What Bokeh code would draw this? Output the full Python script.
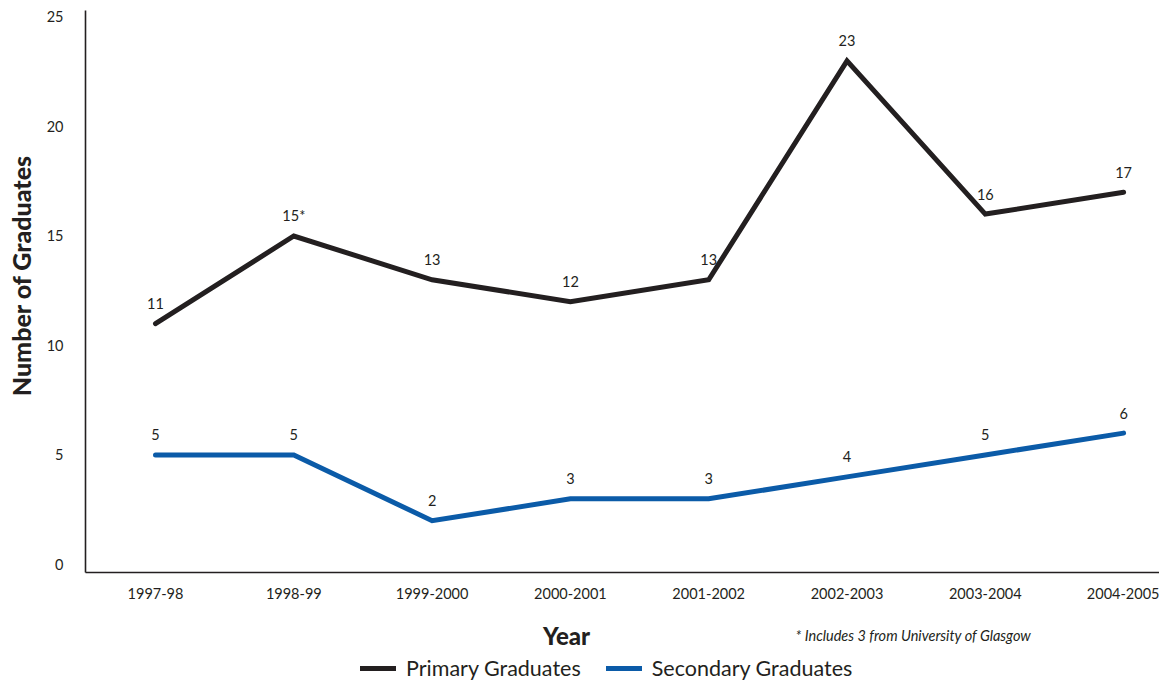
import math
from bokeh.plotting import figure
from bokeh.models import (ColumnDataSource, FixedTicker, Legend, LegendItem, Label, Range1d)
from bokeh.core.properties import value
from bokeh.embed import file_html
from bokeh.resources import INLINE

years = ["1997-98", "1998-99", "1999-2000", "2000-2001", "2001-2002", "2002-2003", "2003-2004", "2004-2005"]
primary = [11, 15, 13, 12, 13, 23, 16, 17]
secondary = [5, 5, 2, 3, 3, 4, 5, 6]
primary_labels = ["11", "15*", "13", "12", "13", "23", "16", "17"]
secondary_labels = ["5", "5", "2", "3", "3", "4", "5", "6"]
y_ticks = [0, 5, 10, 15, 20, 25]

FONT = "Lato"
HEAVY = "Lato Black"
BLACK = "#231f20"
BLUE = "#0b5ba8"

xs = list(range(len(years)))

W, H = 1159, 685
# frame covers the whole canvas; axes are pinned at fixed locations inside it
X0, X1 = -1.1208, (W - 155) / 138.3
Y0, Y1 = (564 - H) / 21.9, 25.753
AX_X = -0.506   # where the y axis sits
AX_Y = -0.365   # where the x axis sits

p = figure(width=W, height=H, output_backend="svg", toolbar_location=None,
           x_range=Range1d(X0, X1), y_range=Range1d(Y0, Y1),
           min_border_left=0, min_border_top=0, min_border_right=0, min_border_bottom=0)
p.outline_line_color = None
p.xgrid.grid_line_color = None
p.ygrid.grid_line_color = None

src_p = ColumnDataSource(dict(x=xs, y=primary, t=primary_labels))
src_s = ColumnDataSource(dict(x=xs, y=secondary, t=secondary_labels))

r1 = p.line("x", "y", source=src_p, line_color=BLACK, line_width=5, line_join="miter", line_cap="round")
r2 = p.line("x", "y", source=src_s, line_color=BLUE, line_width=5, line_join="miter", line_cap="round")

for src in (src_p, src_s):
    p.text("x", "y", text="t", source=src, text_font=value(FONT), text_font_size="14.5px",
           text_color=BLACK, text_align="center", text_baseline="middle", y_offset=-20)

p.xaxis.ticker = FixedTicker(ticks=xs)
p.xaxis.major_label_overrides = {i: y for i, y in enumerate(years)}
p.yaxis.ticker = FixedTicker(ticks=y_ticks)
p.xaxis.fixed_location = AX_Y
p.xaxis.bounds = (AX_X, X1)
p.yaxis.fixed_location = AX_X
p.yaxis.bounds = (AX_Y, 25.297)

for ax in (p.xaxis[0], p.yaxis[0]):
    ax.axis_line_color = BLACK
    ax.axis_line_width = 1.6
    ax.major_tick_line_color = None
    ax.minor_tick_line_color = None
    ax.major_label_text_font = FONT
    ax.major_label_text_font_size = "14.5px"
    ax.major_label_text_color = BLACK

p.xaxis.major_label_standoff = 10
p.yaxis.major_label_standoff = 16

year_lbl = Label(x=2.972, y=-3.242, text="Year", text_font=HEAVY,
                 text_font_size="24px", text_color=BLACK, text_align="center", text_baseline="middle")
ytitle = Label(x=-0.976, y=13.196, text="Number of Graduates", angle=math.pi / 2,
               text_font=HEAVY, text_font_size="25px",
               text_color=BLACK, text_align="center", text_baseline="middle")
note = Label(x=4.628, y=-3.242, text="* Includes 3 from University of Glasgow",
             text_font=FONT, text_font_style="italic", text_font_size="14.5px",
             text_color=BLACK, text_baseline="middle", text_align="left")
for lb in (year_lbl, ytitle, note):
    p.add_layout(lb)

legend = Legend(items=[LegendItem(label="Primary Graduates", renderers=[r1]),
                       LegendItem(label="Secondary Graduates", renderers=[r2])],
                orientation="horizontal", location=(360, 4),
                label_text_font=FONT, label_text_font_size="21.5px", label_text_color=BLACK,
                label_standoff=10, glyph_width=36, glyph_height=18, label_height=18,
                spacing=25, padding=0, margin=0,
                border_line_color=None, background_fill_alpha=0)
p.add_layout(legend)

open("out.html", "w").write(file_html(p, INLINE))
